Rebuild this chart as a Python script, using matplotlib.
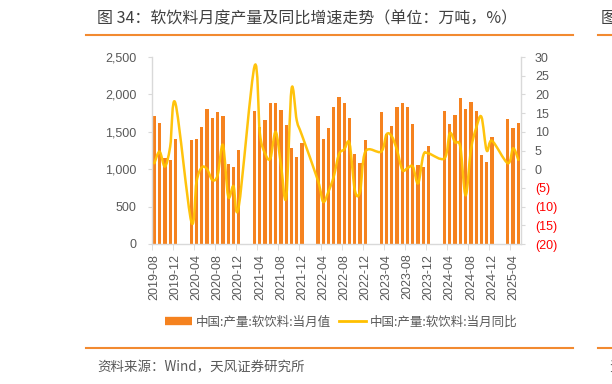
import numpy as np
import matplotlib
matplotlib.use("Agg")
import matplotlib.pyplot as plt
from matplotlib.path import Path
from matplotlib.patches import PathPatch
from matplotlib.lines import Line2D

plt.rcParams['font.family'] = ['Noto Sans CJK SC', 'DejaVu Sans']

# ---------------- data ----------------
months = [f"{y}-{m:02d}" for y in range(2019, 2026) for m in range(1, 13)]
months = months[months.index("2019-08"):months.index("2025-05") + 1]

nan = np.nan
production = [
    1714, 1620, 1156, 1129, 1402,                                  # 2019-08..12
    nan, nan, 1384, 1402, 1562, 1799, 1687, 1763, 1714, 1071, 1036, 1259,  # 2020
    nan, nan, 1772, 1567, 1652, 1884, 1884, 1790, 1589, 1290, 1165, 1353,  # 2021
    nan, nan, 1714, 1406, 1545, 1826, 1969, 1884, 1683, 1201, 1089, 1384,  # 2022
    nan, nan, 1763, 1469, 1580, 1826, 1888, 1835, 1607, 1054, 1027, 1308,  # 2023
    nan, nan, 1781, 1598, 1719, 1955, 1799, 1902, 1772, 1192, 1098, 1429,  # 2024
    nan, nan, 1674, 1545, 1612,                                    # 2025
]
yoy = [
    1.6, 4.7, 0.7, 6.0, 17.6,
    nan, nan, -14.0, -3.3, 0.5, 0.0, -2.9, -1.6, 6.5, -7.3, -4.5, -10.0,
    nan, nan, 27.6, 9.6, 4.2, 2.9, 10.0, 1.2, -7.5, 21.4, 13.0, 9.0,
    nan, nan, -3.0, -8.7, -6.0, -2.0, 4.0, 5.3, 6.9, -5.6, -6.0, 4.7,
    nan, nan, 4.7, 9.3, 8.8, 5.1, -0.2, 0.3, 0.7, -3.8, 3.8, 4.2,
    nan, nan, 2.9, 9.6, 7.2, 6.0, -7.0, 5.1, 11.0, 14.0, 5.0, 7.6,
    nan, nan, 1.6, 5.6, 2.5,
]
left_ticks = [0, 500, 1000, 1500, 2000, 2500]
right_ticks = [-20, -15, -10, -5, 0, 5, 10, 15, 20, 25, 30]
bar_label = "中国:产量:软饮料:当月值"
line_label = "中国:产量:软饮料:当月同比"
title = "图 34：软饮料月度产量及同比增速走势（单位：万吨，%）"
source = "资料来源：Wind，天风证券研究所"

# ---------------- style ----------------
BAR_C = "#F5821F"
LINE_C = "#FFC000"
ACC_C = "#F28A30"
TXT_C = "#595959"
AX_C = "#D9D9D9"
NUM_FONT = ["Liberation Sans", "DejaVu Sans"]

W, H = 612, 384
fig = plt.figure(figsize=(W / 100, H / 100), dpi=100)

L, R, T, B = 151.7, 521.0, 57.0, 244.0
ax = fig.add_axes([L / W, 1 - B / H, (R - L) / W, (B - T) / H])
ax2 = ax.twinx()

x = np.arange(len(months))
prod = np.array(production, dtype=float)
ax.bar(x, prod, width=0.62, color=BAR_C, zorder=2)
ax.set_xlim(-0.5, len(months) - 0.5)
ax.set_ylim(0, 2500)

# smooth line (Bezier through valid points, like Excel smoothing)
yy = np.array(yoy, dtype=float)
ok = ~np.isnan(yy)
px, py = x[ok].astype(float), yy[ok]
verts = [(px[0], py[0])]
codes = [Path.MOVETO]
n = len(px)
for i in range(n - 1):
    p0 = (px[max(i - 1, 0)], py[max(i - 1, 0)])
    p1 = (px[i], py[i])
    p2 = (px[i + 1], py[i + 1])
    p3 = (px[min(i + 2, n - 1)], py[min(i + 2, n - 1)])
    c1 = (p1[0] + (p2[0] - p0[0]) / 6, p1[1] + (p2[1] - p0[1]) / 6)
    c2 = (p2[0] - (p3[0] - p1[0]) / 6, p2[1] - (p3[1] - p1[1]) / 6)
    verts += [c1, c2, p2]
    codes += [Path.CURVE4] * 3
ax2.add_patch(PathPatch(Path(verts, codes), facecolor="none",
                        edgecolor=LINE_C, lw=1.8, zorder=3, capstyle="round",
                        joinstyle="round", alpha=0.95))
ax2.set_ylim(-20, 30)
ax.set_zorder(1)
ax2.set_zorder(2)
ax.patch.set_visible(False)

# axes styling
for a in (ax, ax2):
    for s in a.spines.values():
        s.set_visible(False)
ax.spines['left'].set_visible(True)
ax.spines['bottom'].set_visible(True)
ax2.spines['right'].set_visible(True)
for s in (ax.spines['left'], ax.spines['bottom'], ax2.spines['right']):
    s.set_color(AX_C)
    s.set_linewidth(1.0)

ax.set_yticks(left_ticks)
ax.set_yticklabels([f"{v:,}" for v in left_ticks], fontfamily=NUM_FONT)
ax.tick_params(axis='y', length=3, color=AX_C, pad=8, labelsize=9,
               labelcolor=TXT_C)

ax2.set_yticks(right_ticks)
rl = ax2.set_yticklabels([f"({abs(v)})" if v < 0 else f"{v}" for v in right_ticks],
                         fontfamily=NUM_FONT)
for v, t in zip(right_ticks, rl):
    t.set_color("#FF0000" if v < 0 else TXT_C)
ax2.tick_params(axis='y', length=3, color=AX_C, pad=7, labelsize=9)

tick_pos = list(range(0, len(months), 4))
ax.set_xticks(tick_pos)
ax.set_xticklabels([months[i] for i in tick_pos], rotation=90,
                   fontfamily=NUM_FONT)
ax.tick_params(axis='x', length=0, pad=7, labelsize=9, labelcolor=TXT_C)
ax.set_xticks([i - 0.5 for i in tick_pos], minor=True)
ax.tick_params(axis='x', which='minor', length=4, color=AX_C)

# legend
handles = [Line2D([], [], color=BAR_C, lw=6, solid_capstyle='butt'),
           Line2D([], [], color=LINE_C, lw=2)]
fig.legend(handles, [bar_label, line_label], loc='center',
           bbox_to_anchor=(341 / W, 1 - 322 / H), ncol=2, frameon=False,
           fontsize=9, labelcolor=TXT_C, handlelength=2.2, handletextpad=0.3,
           columnspacing=0.6)

# title, rules, source
fig.text(97 / W, 1 - 19 / H, title, ha='left', va='center', fontsize=11.5,
         color="#404040", fontweight='medium')
fig.add_artist(Line2D([86 / W, 573 / W], [1 - 35 / H] * 2, color=ACC_C, lw=1.5))
fig.add_artist(Line2D([598 / W, 1.0], [1 - 35 / H] * 2, color=ACC_C, lw=1.5))
fig.text(601 / W, 1 - 19 / H, "图", ha='left', va='center', fontsize=11.5,
         color="#404040", fontweight='medium')
fig.add_artist(Line2D([86 / W, 573 / W], [1 - 348 / H] * 2, color=ACC_C, lw=1.5))
fig.add_artist(Line2D([598 / W, 1.0], [1 - 348 / H] * 2, color=ACC_C, lw=1.5))
fig.text(97 / W, 1 - 367 / H, source, ha='left', va='center', fontsize=9.7,
         color=TXT_C)
fig.text(609 / W, 1 - 367 / H, "资", ha='left', va='center', fontsize=9.7,
         color=TXT_C)

fig.savefig("out.png", dpi=100, facecolor="white")
